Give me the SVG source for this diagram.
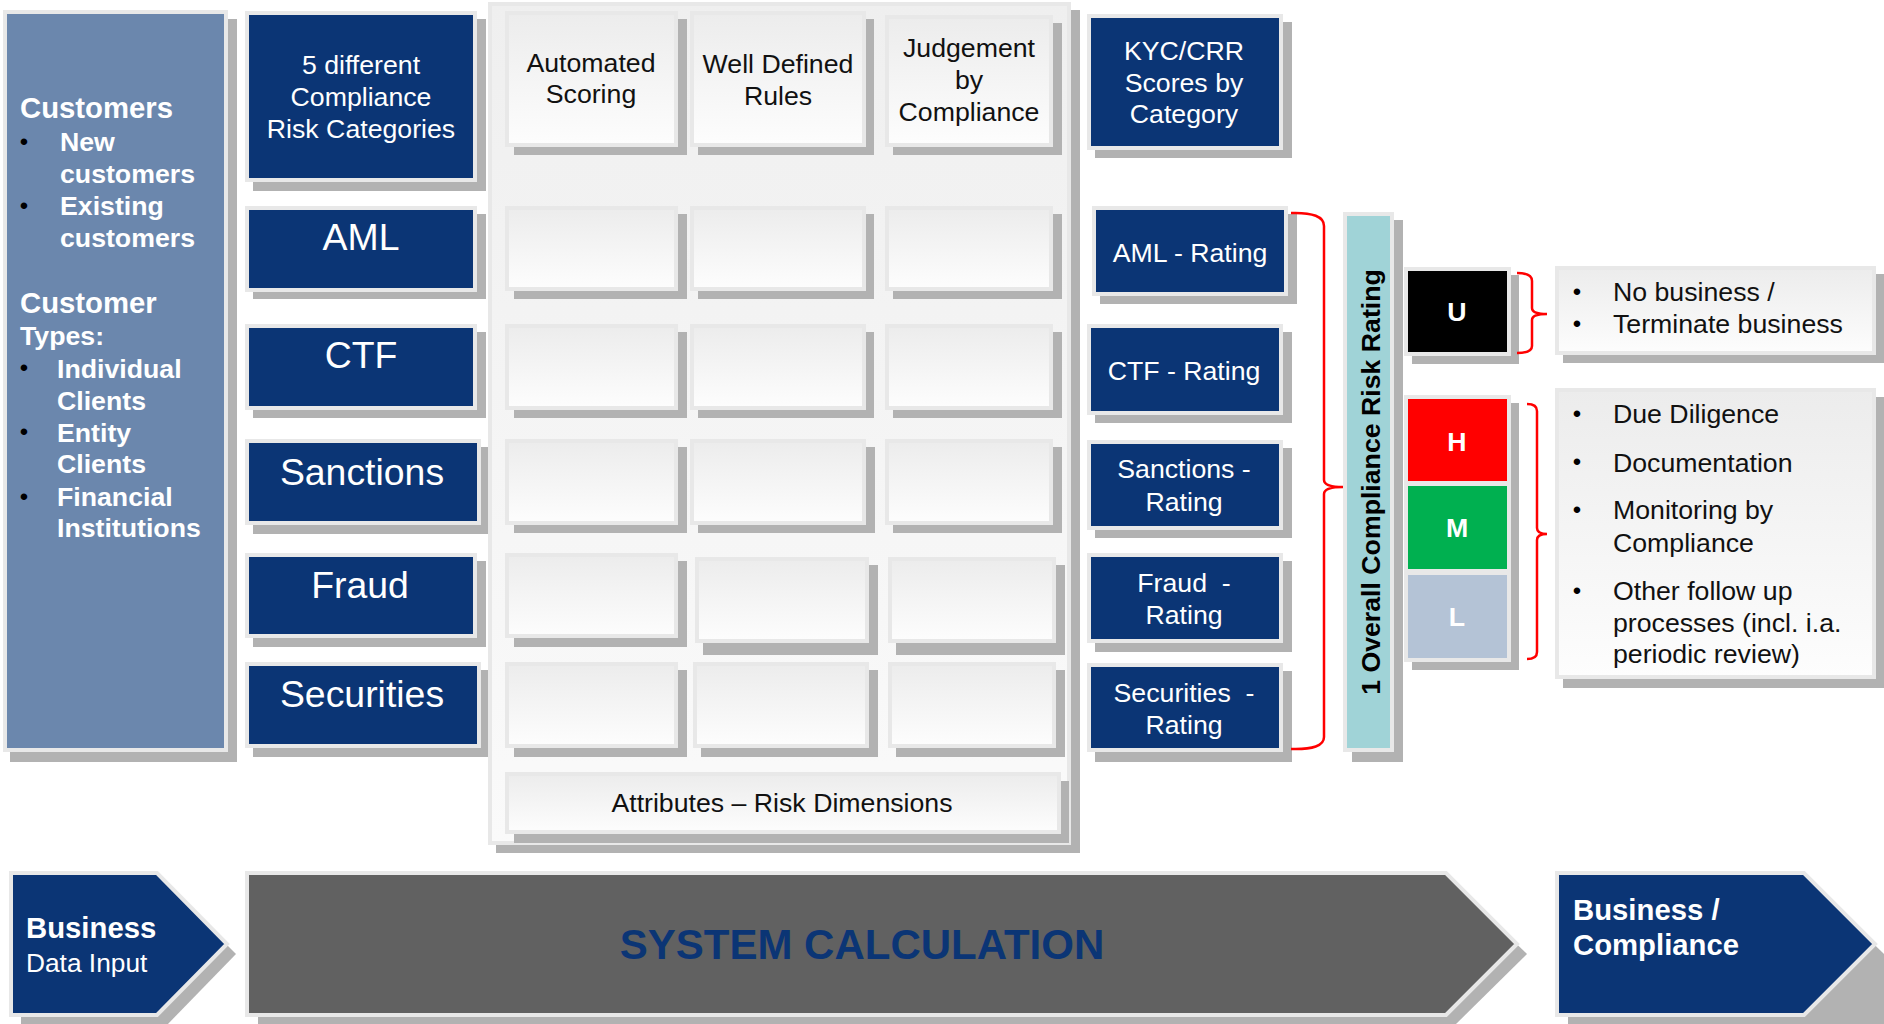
<svg xmlns="http://www.w3.org/2000/svg" width="1884" height="1024" viewBox="0 0 1884 1024">
<defs>
<linearGradient id="cg" x1="0" y1="0" x2="0" y2="1"><stop offset="0" stop-color="#ececec"/><stop offset="1" stop-color="#fdfdfd"/></linearGradient>
<linearGradient id="pg" x1="0" y1="0" x2="0" y2="1"><stop offset="0" stop-color="#efefef"/><stop offset="1" stop-color="#fafafa"/></linearGradient>
<style>
.sh{fill:#b2b2b2}
.bx{stroke:#e8e8e8;stroke-width:4}
.navy{fill:#0b3575}
.cell{fill:url(#cg)}
text{font-family:"Liberation Sans",Arial,sans-serif}
.w{fill:#fff}
.k{fill:#111}
.b{font-weight:bold}
.c{text-anchor:middle}
.f26{font-size:26.7px}
.f36{font-size:37.4px}
.f28{font-size:29.3px}
.bul{font-size:24px;fill:#000}
.br{fill:none;stroke:#ff0000;stroke-width:2.5}
</style>
</defs>
<rect width="1884" height="1024" fill="#fff"/>

<g id="customers">
<rect class="sh" x="10" y="19" width="227" height="743"/>
<rect class="bx" x="5" y="12" width="221" height="738" fill="#6b87ad"/>
<text class="w b f28" x="20" y="118">Customers</text>
<text class="bul" x="24" y="150" text-anchor="middle">•</text>
<text class="w b f26" x="60" y="151">New</text>
<text class="w b f26" x="60" y="183">customers</text>
<text class="bul" x="24" y="214" text-anchor="middle">•</text>
<text class="w b f26" x="60" y="215">Existing</text>
<text class="w b f26" x="60" y="247">customers</text>
<text class="w b f28" x="20" y="313">Customer</text>
<text class="w b f26" x="20" y="345">Types:</text>
<text class="bul" x="24" y="376" text-anchor="middle">•</text>
<text class="w b f26" x="57" y="378">Individual</text>
<text class="w b f26" x="57" y="410">Clients</text>
<text class="bul" x="24" y="440" text-anchor="middle">•</text>
<text class="w b f26" x="57" y="442">Entity</text>
<text class="w b f26" x="57" y="473">Clients</text>
<text class="bul" x="24" y="505" text-anchor="middle">•</text>
<text class="w b f26" x="57" y="506">Financial</text>
<text class="w b f26" x="57" y="537">Institutions</text>
</g>

<g id="cat-header">
<rect class="sh" x="253" y="19" width="233" height="172"/>
<rect class="bx navy" x="247" y="13" width="228" height="167"/>
<text class="w f26 c" x="361" y="74">5 different</text>
<text class="w f26 c" x="361" y="106">Compliance</text>
<text class="w f26 c" x="361" y="138">Risk Categories</text>
</g>
<g id="cat-aml">
<rect class="sh" x="253" y="214" width="233" height="85"/>
<rect class="bx navy" x="247" y="208" width="228" height="82"/>
<text class="w f36 c" x="361" y="250">AML</text>
</g>
<g id="cat-ctf">
<rect class="sh" x="253" y="332" width="233" height="86"/>
<rect class="bx navy" x="247" y="326" width="228" height="82"/>
<text class="w f36 c" x="361" y="368">CTF</text>
</g>
<g id="cat-sanctions">
<rect class="sh" x="253" y="447" width="237" height="87"/>
<rect class="bx navy" x="247" y="441" width="232" height="82"/>
<text class="w f36 c" x="362" y="485">Sanctions</text>
</g>
<g id="cat-fraud">
<rect class="sh" x="253" y="561" width="233" height="86"/>
<rect class="bx navy" x="247" y="555" width="228" height="81"/>
<text class="w f36 c" x="360" y="598">Fraud</text>
</g>
<g id="cat-securities">
<rect class="sh" x="253" y="670" width="237" height="87"/>
<rect class="bx navy" x="247" y="664" width="232" height="82"/>
<text class="w f36 c" x="362" y="707">Securities</text>
</g>

<g id="matrix-panel">
<rect class="sh" x="496" y="10" width="584" height="843"/>
<rect class="bx" x="490" y="4" width="579" height="839" fill="url(#pg)"/>
</g>

<g id="cells">
<g id="h-automated">
<rect class="sh" x="514" y="19" width="173" height="136"/>
<rect class="bx cell" x="507" y="13" width="169" height="132"/>
<text class="k f26 c" x="591" y="72">Automated</text>
<text class="k f26 c" x="591" y="103">Scoring</text>
</g>
<g id="h-rules">
<rect class="sh" x="698" y="19" width="176" height="136"/>
<rect class="bx cell" x="692" y="13" width="172" height="132"/>
<text class="k f26 c" x="778" y="73">Well Defined</text>
<text class="k f26 c" x="778" y="105">Rules</text>
</g>
<g id="h-judgement">
<rect class="sh" x="893" y="23" width="169" height="132"/>
<rect class="bx cell" x="887" y="17" width="164" height="128"/>
<text class="k f26 c" x="969" y="57">Judgement</text>
<text class="k f26 c" x="969" y="89">by</text>
<text class="k f26 c" x="969" y="121">Compliance</text>
</g>
<g id="r-aml">
<rect class="sh" x="514" y="214" width="173" height="85"/><rect class="bx cell" x="507" y="208" width="169" height="81"/>
<rect class="sh" x="698" y="214" width="176" height="85"/><rect class="bx cell" x="692" y="208" width="172" height="81"/>
<rect class="sh" x="893" y="214" width="169" height="85"/><rect class="bx cell" x="887" y="208" width="164" height="81"/>
</g>
<g id="r-ctf">
<rect class="sh" x="514" y="332" width="173" height="86"/><rect class="bx cell" x="507" y="326" width="169" height="82"/>
<rect class="sh" x="698" y="332" width="176" height="86"/><rect class="bx cell" x="692" y="326" width="172" height="82"/>
<rect class="sh" x="893" y="332" width="169" height="86"/><rect class="bx cell" x="887" y="326" width="164" height="82"/>
</g>
<g id="r-sanctions">
<rect class="sh" x="514" y="447" width="173" height="86"/><rect class="bx cell" x="507" y="441" width="169" height="82"/>
<rect class="sh" x="698" y="447" width="177" height="86"/><rect class="bx cell" x="692" y="441" width="172" height="82"/>
<rect class="sh" x="893" y="447" width="169" height="86"/><rect class="bx cell" x="887" y="441" width="164" height="82"/>
</g>
<g id="r-fraud">
<rect class="sh" x="514" y="561" width="173" height="86"/><rect class="bx cell" x="507" y="555" width="169" height="81"/>
<rect class="sh" x="703" y="565" width="175" height="90"/><rect class="bx cell" x="697" y="559" width="170" height="82"/>
<rect class="sh" x="896" y="565" width="169" height="90"/><rect class="bx cell" x="890" y="559" width="164" height="82"/>
</g>
<g id="r-securities">
<rect class="sh" x="514" y="670" width="173" height="87"/><rect class="bx cell" x="507" y="664" width="169" height="82"/>
<rect class="sh" x="701" y="670" width="177" height="87"/><rect class="bx cell" x="695" y="664" width="172" height="82"/>
<rect class="sh" x="896" y="670" width="169" height="87"/><rect class="bx cell" x="890" y="664" width="164" height="82"/>
</g>
<g id="attributes">
<rect class="sh" x="514" y="781" width="555" height="62"/>
<rect class="bx cell" x="507" y="774" width="552" height="58"/>
<text class="k f26 c" x="782" y="812">Attributes – Risk Dimensions</text>
</g>
</g>

<g id="kyc">
<rect class="sh" x="1095" y="22" width="197" height="136"/>
<rect class="bx navy" x="1089" y="16" width="192" height="132"/>
<text class="w f26 c" x="1184" y="60">KYC/CRR</text>
<text class="w f26 c" x="1184" y="92">Scores by</text>
<text class="w f26 c" x="1184" y="123">Category</text>
</g>
<g id="aml-rating">
<rect class="sh" x="1100" y="214" width="197" height="90"/>
<rect class="bx navy" x="1094" y="208" width="192" height="86"/>
<text class="w f26 c" x="1190" y="262">AML - Rating</text>
</g>
<g id="ctf-rating">
<rect class="sh" x="1095" y="332" width="197" height="91"/>
<rect class="bx navy" x="1089" y="326" width="192" height="87"/>
<text class="w f26 c" x="1184" y="380">CTF - Rating</text>
</g>
<g id="sanctions-rating">
<rect class="sh" x="1095" y="448" width="197" height="90"/>
<rect class="bx navy" x="1089" y="442" width="192" height="86"/>
<text class="w f26 c" x="1184" y="478">Sanctions -</text>
<text class="w f26 c" x="1184" y="511">Rating</text>
</g>
<g id="fraud-rating">
<rect class="sh" x="1095" y="561" width="197" height="91"/>
<rect class="bx navy" x="1089" y="555" width="192" height="86"/>
<text class="w f26 c" x="1184" y="592" xml:space="preserve">Fraud  -</text>
<text class="w f26 c" x="1184" y="624">Rating</text>
</g>
<g id="securities-rating">
<rect class="sh" x="1095" y="671" width="197" height="91"/>
<rect class="bx navy" x="1089" y="665" width="192" height="85"/>
<text class="w f26 c" x="1184" y="702" xml:space="preserve">Securities  -</text>
<text class="w f26 c" x="1184" y="734">Rating</text>
</g>

<g id="overall">
<rect class="sh" x="1352" y="220" width="51" height="542"/>
<rect class="bx" x="1345" y="214" width="47" height="536" fill="#a0d3d7"/>
<text class="b f26 c" fill="#000" transform="translate(1380,482) rotate(-90)">1 Overall Compliance Risk Rating</text>
</g>

<g id="rating-u">
<rect class="sh" x="1412" y="275" width="107" height="89"/>
<rect class="bx" x="1406" y="269" width="103" height="85" fill="#000"/>
<text class="w b f26 c" x="1457" y="321">U</text>
</g>
<g id="rating-hml">
<rect class="sh" x="1412" y="403" width="107" height="267"/>
<rect x="1404" y="395" width="107" height="267" fill="#e8e8e8"/>
<rect x="1408" y="399" width="99" height="82" fill="#ff0000"/>
<rect x="1408" y="486" width="99" height="83" fill="#00b050"/>
<rect x="1408" y="575" width="99" height="83" fill="#b4c3d6"/>
<text class="w b f26 c" x="1457" y="451">H</text>
<text class="w b f26 c" x="1457" y="537">M</text>
<text class="w b f26 c" x="1457" y="626">L</text>
</g>

<g id="action-u">
<rect class="sh" x="1563" y="274" width="330" height="89"/>
<rect class="bx cell" x="1557" y="268" width="317" height="85"/>
<text class="bul" x="1577" y="300" text-anchor="middle">•</text>
<text class="k f26" x="1613" y="301">No business /</text>
<text class="bul" x="1577" y="332" text-anchor="middle">•</text>
<text class="k f26" x="1613" y="333">Terminate business</text>
</g>
<g id="action-hml">
<rect class="sh" x="1563" y="397" width="330" height="291"/>
<rect class="bx cell" x="1557" y="390" width="317" height="287"/>
<text class="bul" x="1577" y="422" text-anchor="middle">•</text>
<text class="k f26" x="1613" y="423">Due Diligence</text>
<text class="bul" x="1577" y="470" text-anchor="middle">•</text>
<text class="k f26" x="1613" y="472">Documentation</text>
<text class="bul" x="1577" y="518" text-anchor="middle">•</text>
<text class="k f26" x="1613" y="519">Monitoring by</text>
<text class="k f26" x="1613" y="552">Compliance</text>
<text class="bul" x="1577" y="599" text-anchor="middle">•</text>
<text class="k f26" x="1613" y="600">Other follow up</text>
<text class="k f26" x="1613" y="632">processes (incl. i.a.</text>
<text class="k f26" x="1613" y="663">periodic review)</text>
</g>

<g id="connectors">
<path class="br" d="M1291,213 Q1324,212 1324,226 L1324,480 Q1324,487 1343,487 Q1324,487 1324,494 L1324,737 Q1324,750 1291,749"/>
<path class="br" d="M1517,273 Q1532,273 1532,281 L1532,308 Q1532,314 1547,314 Q1532,314 1532,320 L1532,346 Q1532,353 1517,353"/>
<path class="br" d="M1527,404 Q1537,404 1537,411 L1537,528 Q1537,534 1547,534 Q1537,534 1537,540 L1537,652 Q1537,659 1527,659"/>
</g>

<g id="business-input">
<polygon class="sh" points="21,884 166,884 236,954 166,1026 21,1026"/>
<polygon class="bx navy" points="11,873 157,873 227,944 157,1015 11,1015"/>
<text class="w b f28" x="26" y="938">Business</text>
<text class="w" font-size="26.3" x="26" y="972">Data Input</text>
</g>
<g id="system-calculation">
<polygon class="sh" points="258,884 1454,884 1527,954 1454,1026 258,1026"/>
<polygon class="bx" fill="#616161" points="247,873 1446,873 1517,944 1446,1015 247,1015"/>
<text class="b c" font-size="42" fill="#0b3575" x="862" y="959">SYSTEM CALCULATION</text>
</g>
<g id="business-compliance">
<polygon class="sh" points="1568,884 1812,884 1884,954 1884,1026 1568,1026"/>
<polygon class="bx navy" points="1557,873 1804,873 1875,944 1804,1015 1557,1015"/>
<text class="w b f28" x="1573" y="920">Business /</text>
<text class="w b f28" x="1573" y="955">Compliance</text>
</g>
</svg>
